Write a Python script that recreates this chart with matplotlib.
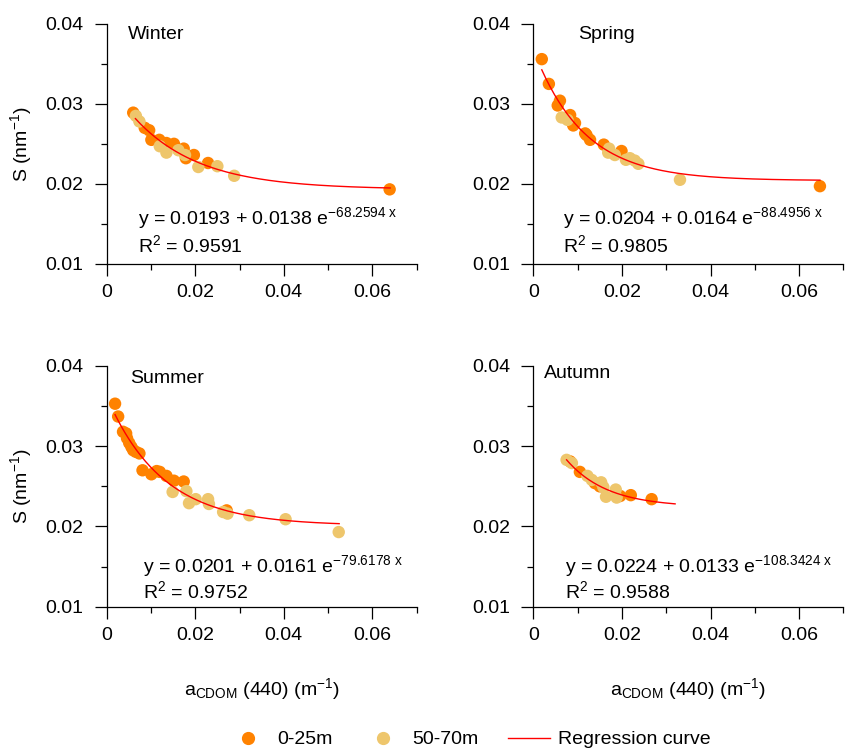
import matplotlib
matplotlib.use('Agg')
import matplotlib.pyplot as plt
import numpy as np
from matplotlib.lines import Line2D
from matplotlib.ticker import MultipleLocator

FONT = ['Liberation Sans', 'DejaVu Sans']
plt.rcParams['font.family'] = FONT
plt.rcParams['mathtext.fontset'] = 'custom'
plt.rcParams['mathtext.rm'] = FONT[0]
plt.rcParams['mathtext.it'] = FONT[0]
plt.rcParams['mathtext.bf'] = FONT[0]

C_SHALLOW = '#FF8200'
C_DEEP = '#EEC66C'

seasons = ['Winter', 'Spring', 'Summer', 'Autumn']

# (a_CDOM(440), S) per season and depth layer
winter_shallow_x = [0.0060, 0.0086, 0.0096, 0.0101, 0.0119, 0.0135, 0.0152, 0.0174, 0.0179, 0.0197, 0.0229, 0.0639]
winter_shallow_y = [0.0289, 0.0270, 0.0267, 0.0255, 0.0255, 0.0251, 0.0250, 0.0244, 0.0232, 0.0236, 0.0226, 0.0193]
winter_deep_x = [0.0066, 0.0074, 0.0120, 0.0135, 0.0162, 0.0177, 0.0207, 0.0250, 0.0288]
winter_deep_y = [0.0285, 0.0278, 0.0247, 0.0239, 0.0242, 0.0236, 0.0221, 0.0222, 0.0210]

spring_shallow_x = [0.0019, 0.0035, 0.0060, 0.0055, 0.0083, 0.0094, 0.0090, 0.0117, 0.0120, 0.0128, 0.0159, 0.0199, 0.0647]
spring_shallow_y = [0.0356, 0.0325, 0.0304, 0.0298, 0.0286, 0.0276, 0.0273, 0.0263, 0.0261, 0.0255, 0.0249, 0.0241, 0.0197]
spring_deep_x = [0.0064, 0.0077, 0.0171, 0.0169, 0.0184, 0.0209, 0.0218, 0.0229, 0.0237, 0.0331]
spring_deep_y = [0.0283, 0.0280, 0.0244, 0.0239, 0.0236, 0.0230, 0.0232, 0.0229, 0.0225, 0.0205]

summer_shallow_x = [0.0019, 0.0026, 0.0037, 0.0044, 0.0046, 0.0051, 0.0056, 0.0060, 0.0066, 0.0074,
                    0.0081, 0.0101, 0.0113, 0.0120, 0.0135, 0.0152, 0.0174, 0.0271]
summer_shallow_y = [0.0353, 0.0337, 0.0318, 0.0316, 0.0310, 0.0304, 0.0299, 0.0295, 0.0293, 0.0291,
                    0.0270, 0.0265, 0.0269, 0.0268, 0.0263, 0.0257, 0.0256, 0.0220]
summer_deep_x = [0.0149, 0.0180, 0.0186, 0.0201, 0.0229, 0.0231, 0.0263, 0.0273, 0.0322, 0.0404, 0.0524]
summer_deep_y = [0.0243, 0.0244, 0.0229, 0.0234, 0.0234, 0.0228, 0.0218, 0.0216, 0.0214, 0.0209, 0.0193]

autumn_shallow_x = [0.0083, 0.0105, 0.0139, 0.0150, 0.0196, 0.0220, 0.0267]
autumn_shallow_y = [0.0281, 0.0268, 0.0254, 0.0250, 0.0238, 0.0239, 0.0234]
autumn_deep_x = [0.0075, 0.0087, 0.0122, 0.0132, 0.0153, 0.0158, 0.0164, 0.0186, 0.0188]
autumn_deep_y = [0.0283, 0.0279, 0.0263, 0.0258, 0.0255, 0.0249, 0.0237, 0.0246, 0.0236]

# fit y = a + b * exp(c * x), and the x range the curve is drawn over
fit_a = [0.0193, 0.0204, 0.0201, 0.0224]
fit_b = [0.0138, 0.0164, 0.0161, 0.0133]
fit_c = [-68.2594, -88.4956, -79.6178, -108.3424]
r2 = [0.9591, 0.9805, 0.9752, 0.9588]
curve_x0 = [0.0065, 0.0019, 0.0019, 0.0075]
curve_x1 = [0.0640, 0.0647, 0.0525, 0.0320]

shallow = [(winter_shallow_x, winter_shallow_y), (spring_shallow_x, spring_shallow_y),
           (summer_shallow_x, summer_shallow_y), (autumn_shallow_x, autumn_shallow_y)]
deep = [(winter_deep_x, winter_deep_y), (spring_deep_x, spring_deep_y),
        (summer_deep_x, summer_deep_y), (autumn_deep_x, autumn_deep_y)]

fig = plt.figure(figsize=(8.6, 7.54), dpi=100)
W = 0.3605
rects = [(0.1240, 0.6503, W, 0.3179), (0.6202, 0.6503, W, 0.3179),
         (0.1240, 0.1954, W, 0.3192), (0.6202, 0.1954, W, 0.3192)]
title_pos = [(0.069, 0.955), (0.144, 0.955), (0.075, 0.95), (0.035, 0.97)]
eq_pos = [(0.101, 0.19, 0.079), (0.096, 0.19, 0.079), (0.117, 0.168, 0.065), (0.102, 0.168, 0.065)]

FS = 14
FS_EQ = 14
for i, name in enumerate(seasons):
    ax = fig.add_axes(rects[i])
    ax.set_xlim(0, 0.07)
    ax.set_ylim(0.01, 0.04)
    for s in ['top', 'right']:
        ax.spines[s].set_visible(False)
    for s in ['left', 'bottom']:
        ax.spines[s].set_linewidth(0.9)
    ax.xaxis.set_minor_locator(MultipleLocator(0.01))
    ax.yaxis.set_minor_locator(MultipleLocator(0.005))
    ax.set_xticks([0, 0.02, 0.04, 0.06])
    ax.set_xticklabels(['0', '0.02', '0.04', '0.06'])
    ax.set_yticks([0.01, 0.02, 0.03, 0.04])
    ax.set_yticklabels(['0.01', '0.02', '0.03', '0.04'])
    ax.tick_params(which='major', length=8.5, width=0.9, labelsize=FS)
    ax.tick_params(axis='y', which='major', pad=8)
    ax.tick_params(axis='x', which='major', pad=6)
    ax.tick_params(which='minor', length=4.5, width=0.9)

    xc = np.linspace(curve_x0[i], curve_x1[i], 200)
    ax.plot(xc, fit_a[i] + fit_b[i] * np.exp(fit_c[i] * xc), color='red', lw=1.0, zorder=3)
    ax.scatter(*shallow[i], s=80, color=C_SHALLOW, edgecolors='none', zorder=2, clip_on=False)
    ax.scatter(*deep[i], s=80, color=C_DEEP, edgecolors='none', zorder=2, clip_on=False)

    ax.text(title_pos[i][0], title_pos[i][1], name, transform=ax.transAxes,
            fontsize=FS, ha='left', va='center')
    ex, ey, ry = eq_pos[i]
    eq = 'y = %.4f + %.4f e$^{%.4f\\ x}$' % (fit_a[i], fit_b[i], fit_c[i])
    ax.text(ex, ey, eq, transform=ax.transAxes, fontsize=FS_EQ, ha='left', va='center')
    ax.text(ex, ry, 'R$^{2}$ = %.4f' % r2[i], transform=ax.transAxes,
            fontsize=FS_EQ, ha='left', va='center')

    if i % 2 == 0:
        ax.set_ylabel('S (nm$^{-1}$)', fontsize=FS)
        ax.yaxis.set_label_coords(-0.235, 0.5)
    if i >= 2:
        ax.set_xlabel('a$_{\\mathrm{CDOM}}$ (440) (m$^{-1}$)', fontsize=FS)
        ax.xaxis.set_label_coords(0.5, -0.29)

handles = [Line2D([], [], marker='o', ls='none', color=C_SHALLOW, markersize=8.5),
           Line2D([], [], marker='o', ls='none', color=C_DEEP, markersize=8.5),
           Line2D([], [], color='red', lw=1.0)]
fig.legend(handles, ['0-25m', '50-70m', 'Regression curve'], loc='center',
           bbox_to_anchor=(0.545, 0.019), ncol=3, frameon=False, fontsize=FS,
           handlelength=2.2, columnspacing=1.5, handletextpad=0.4)

fig.savefig('out.png', dpi=100)
